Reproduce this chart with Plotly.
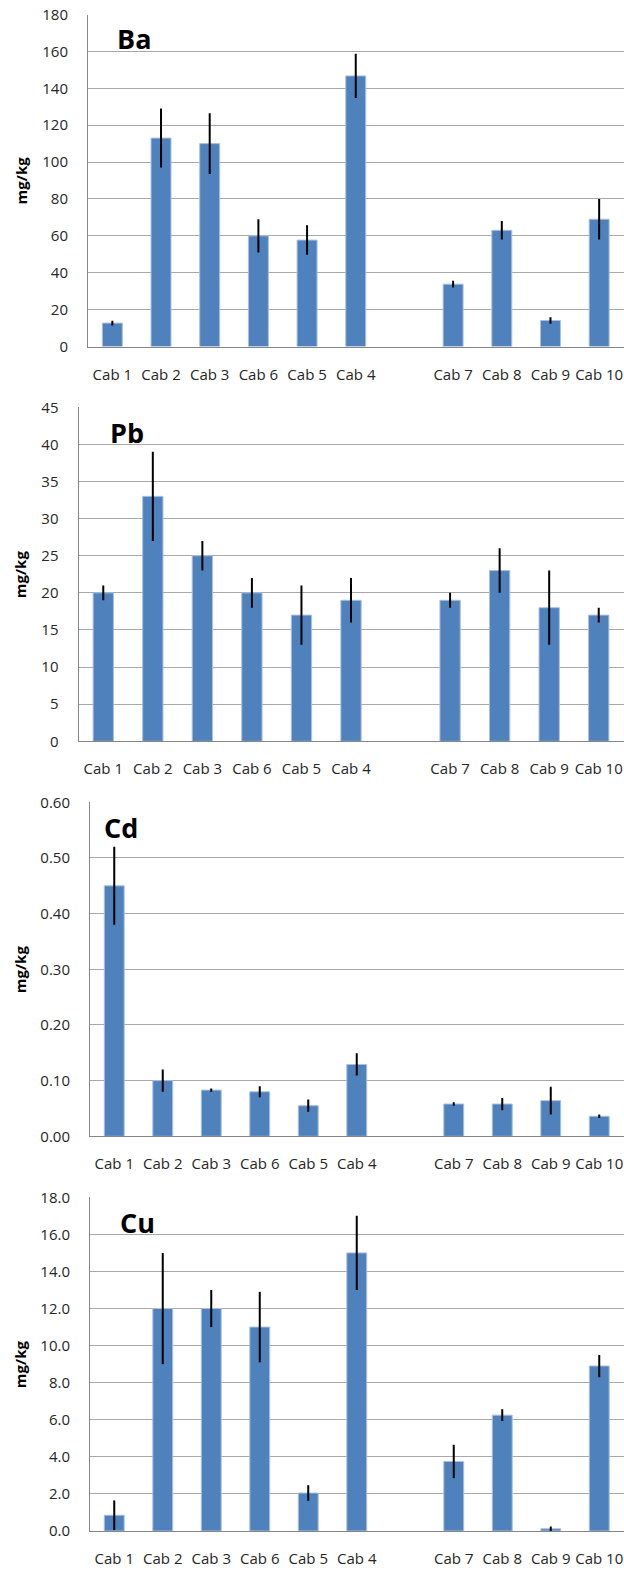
import plotly.graph_objects as go

# ---------------- data ----------------
cabs = ["Cab 1", "Cab 2", "Cab 3", "Cab 6", "Cab 5", "Cab 4", "Cab 7", "Cab 8", "Cab 9", "Cab 10"]
axis_order = ["Cab 1", "Cab 2", "Cab 3", "Cab 6", "Cab 5", "Cab 4", " ", "Cab 7", "Cab 8", "Cab 9", "Cab 10"]

ba_vals = [12.7, 113, 110, 60, 57.7, 146.7, 33.8, 63, 14.1, 69]
ba_err = [1.3, 16, 16.5, 9, 8, 12, 1.8, 5, 1.8, 11]

pb_vals = [20, 33, 25, 20, 17, 19, 19, 23, 18, 17]
pb_err = [1, 6, 2, 2, 4, 3, 1, 3, 5, 1]

cd_vals = [0.45, 0.10, 0.083, 0.080, 0.055, 0.129, 0.058, 0.058, 0.064, 0.036]
cd_err = [0.07, 0.02, 0.003, 0.01, 0.011, 0.02, 0.003, 0.011, 0.025, 0.003]

cu_vals = [0.85, 12, 12, 11, 2.05, 15, 3.75, 6.25, 0.12, 8.9]
cu_err = [0.8, 3, 1, 1.9, 0.42, 2, 0.9, 0.32, 0.12, 0.6]

panel_titles = ["Ba", "Pb", "Cd", "Cu"]
y_max = [180, 45, 0.60, 18.0]
y_dtick = [20, 5, 0.1, 2]
y_fmt = ["d", "d", ".2f", ".1f"]
y_label = "mg/kg"

# ---------------- layout geometry (pixels) ----------------
W, H = 624, 1570
panels = [
    dict(left=88, top=14.5, bottom=346.5, tx=115, ty=38.5),
    dict(left=78.5, top=407.3, bottom=741.3, tx=107.6, ty=432.5),
    dict(left=90, top=802.3, bottom=1136.3, tx=101.6, ty=827),
    dict(left=90, top=1197.3, bottom=1531, tx=118.3, ty=1222),
]
right_px = 623.5

series = [(ba_vals, ba_err), (pb_vals, pb_err), (cd_vals, cd_err), (cu_vals, cu_err)]

BAR = "#4F81BD"
FONT = "Open Sans"
TXT = "#262626"

fig = go.Figure()
layout = dict(
    width=W, height=H,
    margin=dict(l=0, r=0, t=0, b=0, pad=0),
    paper_bgcolor="white", plot_bgcolor="white",
    showlegend=False, bargap=0.59,
    font=dict(family=FONT, size=15, color=TXT),
)
annotations = []

for i, ((vals, errs), p) in enumerate(zip(series, panels)):
    n = i + 1
    xa = "x" if n == 1 else f"x{n}"
    ya = "y" if n == 1 else f"y{n}"
    fig.add_trace(go.Bar(
        x=cabs, y=vals, xaxis=xa, yaxis=ya,
        marker=dict(color=BAR, line=dict(color="#A9C0DE", width=1)),
        error_y=dict(type="data", array=errs, visible=True, color="black",
                     thickness=2, width=0),
    ))
    xkey = "xaxis" if n == 1 else f"xaxis{n}"
    ykey = "yaxis" if n == 1 else f"yaxis{n}"
    layout[xkey] = dict(
        domain=[p["left"] / W, right_px / W], anchor=ya, automargin=False,
        type="category", categoryorder="array", categoryarray=axis_order,
        range=[-0.5, 10.5], tickangle=0, showgrid=False,
        showline=True, linecolor="#868686", linewidth=1,
        ticks="", ticklabelstandoff=14, tickfont=dict(size=15, color=TXT),
        fixedrange=True,
    )
    layout[ykey] = dict(
        domain=[1 - p["bottom"] / H, 1 - p["top"] / H], anchor=xa, automargin=False,
        range=[0, y_max[i]], dtick=y_dtick[i], tick0=0, tickformat=y_fmt[i],
        showgrid=True, gridcolor="#A8A8A8", gridwidth=1,
        showline=True, linecolor="#868686", linewidth=1,
        zeroline=False, ticks="", ticklabelstandoff=16,
        tickfont=dict(size=15, color=TXT), fixedrange=True,
    )
    annotations.append(dict(
        text=f"<b>{panel_titles[i]}</b>", xref="paper", yref="paper",
        x=p["tx"] / W, y=1 - p["ty"] / H, xanchor="left", yanchor="middle",
        showarrow=False, font=dict(family=FONT, size=27, color="black"),
    ))
    annotations.append(dict(
        text=f"<b>{y_label}</b>", xref="paper", yref="paper",
        x=20 / W, y=1 - (p["top"] + p["bottom"]) / 2 / H,
        xanchor="center", yanchor="middle", textangle=-90,
        showarrow=False, font=dict(family=FONT, size=15, color="black"),
    ))

layout["annotations"] = annotations
fig.update_layout(**layout)
fig.write_html(
    "out.html",
    config={"displayModeBar": False},
    post_script="document.body.style.margin='0px';document.body.style.overflow='hidden';",
)
